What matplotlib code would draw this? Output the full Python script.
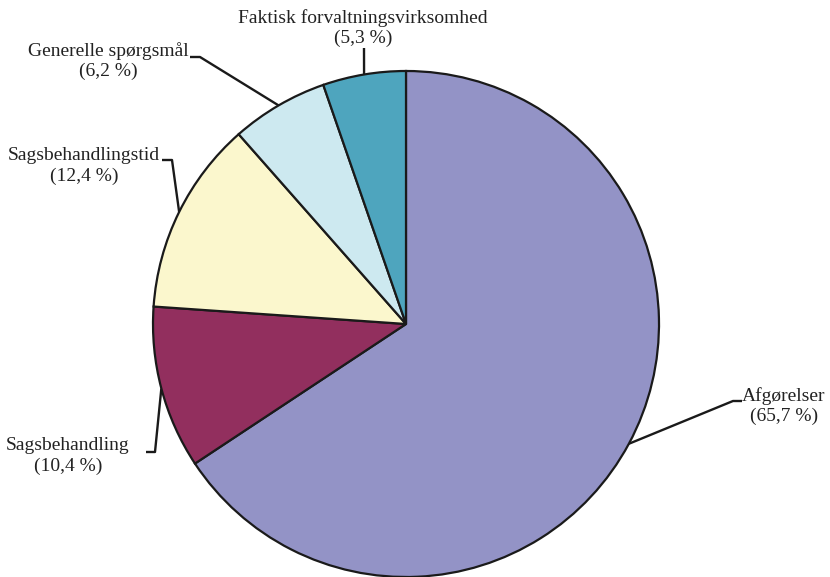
import numpy as np
import matplotlib
matplotlib.use("Agg")
import matplotlib.pyplot as plt

categories = ["Afgørelser", "Sagsbehandling", "Sagsbehandlingstid",
              "Generelle spørgsmål", "Faktisk forvaltningsvirksomhed"]
values = [65.7, 10.4, 12.4, 6.2, 5.3]
pct_labels = ["(65,7 %)", "(10,4 %)", "(12,4 %)", "(6,2 %)", "(5,3 %)"]
colors = ["#9393C6", "#922F5E", "#FBF7CD", "#CDE9F0", "#4EA5BE"]

W, H = 830, 577
fig = plt.figure(figsize=(W / 100, H / 100), dpi=100)
ax = fig.add_axes([0, 0, 1, 1])

cx, cy, R = 406, H - 324, 253
wedges, _ = ax.pie(values, colors=colors, startangle=90, counterclock=False,
                   center=(cx, cy), radius=R, frame=True,
                   wedgeprops=dict(edgecolor="#1a1a1a", linewidth=1.6))
ax.set_xlim(0, W)
ax.set_ylim(0, H)
ax.set_aspect("equal")
ax.axis("off")

# label layout in pixel coords (from top): elbow of leader, end of leader, text centre
layout = [
    dict(elbow=(733, 401), end=(742, 401), text=(784, 406)),
    dict(elbow=(155, 452), end=(146, 452), text=(68, 456)),
    dict(elbow=(172, 160), end=(162, 160), text=(84, 166)),
    dict(elbow=(200, 57), end=(190, 57), text=(108, 61)),
    dict(elbow=(364, 48), end=(364, 48), text=(363, 28)),
]

font = dict(family="Liberation Serif", fontsize=14, color="#222222")
for w, cat, pl, lay in zip(wedges, categories, pct_labels, layout):
    mid = np.deg2rad((w.theta1 + w.theta2) / 2)
    ex, ey = cx + R * np.cos(mid), cy + R * np.sin(mid)
    bx, by = lay["elbow"]
    hx, hy = lay["end"]
    ax.plot([ex, bx, hx], [ey, H - by, H - hy], color="#1a1a1a", lw=1.7,
            solid_capstyle="butt", zorder=0.5)
    tx, ty = lay["text"]
    ax.text(tx, H - ty, cat + "\n" + pl, ha="center", va="center",
            linespacing=1.25, **font)

fig.savefig("out.png", dpi=100)
